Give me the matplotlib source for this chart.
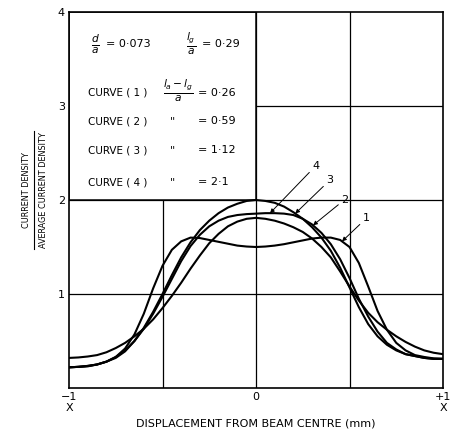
import numpy as np
import matplotlib
matplotlib.use("Agg")
import matplotlib.pyplot as plt
from matplotlib.patches import Rectangle
from matplotlib.lines import Line2D

plt.rcParams['font.family'] = ['DejaVu Sans']

# ---- data ----
x = np.round(np.arange(-1.0, 1.0001, 0.05), 2)

curve1 = [0.22, 0.225, 0.23, 0.25, 0.28, 0.33, 0.42, 0.57, 0.79, 1.06, 1.30,
          1.47, 1.56, 1.60, 1.595, 1.575, 1.555, 1.535, 1.515, 1.505, 1.50,
          1.505, 1.515, 1.53, 1.55, 1.57, 1.59, 1.60, 1.60, 1.575, 1.50,
          1.33, 1.08, 0.82, 0.62, 0.48, 0.40, 0.35, 0.33, 0.315, 0.31]

curve2 = [0.32, 0.325, 0.335, 0.35, 0.38, 0.425, 0.48, 0.55, 0.63, 0.73, 0.85,
          0.98, 1.12, 1.27, 1.41, 1.54, 1.64, 1.72, 1.77, 1.80, 1.81,
          1.80, 1.78, 1.75, 1.71, 1.66, 1.59, 1.50, 1.39, 1.24, 1.08,
          0.93, 0.80, 0.70, 0.62, 0.55, 0.49, 0.44, 0.40, 0.375, 0.36]

curve3 = [0.22, 0.225, 0.235, 0.25, 0.28, 0.32, 0.39, 0.50, 0.64, 0.81, 1.00,
          1.20, 1.39, 1.55, 1.68, 1.78, 1.86, 1.92, 1.96, 1.99, 2.00,
          1.99, 1.97, 1.93, 1.87, 1.80, 1.71, 1.60, 1.46, 1.28, 1.07,
          0.86, 0.68, 0.55, 0.46, 0.40, 0.36, 0.34, 0.32, 0.31, 0.31]

curve4 = [0.22, 0.225, 0.235, 0.25, 0.28, 0.33, 0.40, 0.50, 0.63, 0.79, 0.97,
          1.16, 1.35, 1.51, 1.63, 1.72, 1.78, 1.82, 1.84, 1.85, 1.855,
          1.86, 1.86, 1.855, 1.84, 1.80, 1.74, 1.65, 1.53, 1.37, 1.17,
          0.95, 0.76, 0.60, 0.48, 0.41, 0.36, 0.34, 0.32, 0.31, 0.31]

curve_labels = ["1", "2", "3", "4"]
ratios = ["0·26", "0·59", "1·12", "2·1"]
xtick_vals = [-1, 0, 1]
xtick_labels = ["\u22121\nX", "0", "+1\nX"]
ytick_vals = [1, 2, 3, 4]
ytick_labels = ["1", "2", "3", "4"]

# ---- figure ----
fig = plt.figure(figsize=(4.5, 4.3), dpi=100)
ax = fig.add_axes([69/450, 42/430, 374/450, 376/430])
ax.set_xlim(-1, 1)
ax.set_ylim(0, 4)

for gx in [-0.5, 0, 0.5]:
    ax.axvline(gx, color='black', lw=0.9, zorder=1)
for gy in [1, 2, 3]:
    ax.axhline(gy, color='black', lw=0.9, zorder=1)

# text box in the upper-left quadrant
ax.add_patch(Rectangle((-1, 2), 1, 2, facecolor='white', edgecolor='black',
                       lw=1.1, zorder=2))

curves = [curve1, curve2, curve3, curve4]
for c in curves:
    ax.plot(x, c, color='black', lw=1.5, zorder=3, solid_joinstyle='round',
            solid_capstyle='round')

# curve labels with arrows
tip_x = [0.46, 0.305, 0.21, 0.075]
tip_on = [curve1, curve4, curve3, curve4]
label_off = [(0.11, 0.19), (0.15, 0.22), (0.165, 0.30), (0.225, 0.45)]
for lab, tx, c, (dx, dy) in zip(curve_labels, tip_x, tip_on, label_off):
    ty = float(np.interp(tx, x, c))
    ax.annotate(lab, xy=(tx, ty), xytext=(tx + dx, ty + dy),
                fontsize=8, ha='left', va='bottom', zorder=4,
                arrowprops=dict(arrowstyle='-|>', color='black', lw=0.7,
                                mutation_scale=6, shrinkA=0, shrinkB=0))

# box text
fs = 8
ax.text(-0.86, 3.66, r"$\frac{d}{a}$", fontsize=11, ha='center', va='center', zorder=4)
ax.text(-0.80, 3.66, "= 0·073", fontsize=fs, ha='left', va='center', zorder=4)
ax.text(-0.345, 3.66, r"$\frac{l_g}{a}$", fontsize=11, ha='center', va='center', zorder=4)
ax.text(-0.29, 3.66, "= 0·29", fontsize=fs, ha='left', va='center', zorder=4)

rows_y = [3.14, 2.84, 2.53, 2.19]
for i, (lab, r, yy) in enumerate(zip(curve_labels, ratios, rows_y)):
    ax.text(-0.90, yy, "CURVE ( %s )" % lab, fontsize=7.5, ha='left',
            va='center', zorder=4)
    if i == 0:
        ax.text(-0.415, yy + 0.02, r"$\frac{l_a - l_g}{a}$", fontsize=11,
                ha='center', va='center', zorder=4)
    else:
        ax.text(-0.445, yy, '"', fontsize=fs, ha='center', va='center', zorder=4)
    ax.text(-0.31, yy, "= " + r, fontsize=fs, ha='left', va='center', zorder=4)

# ticks
ax.set_xticks(xtick_vals)
ax.set_xticklabels(xtick_labels, fontsize=8, linespacing=1.1)
ax.set_yticks(ytick_vals)
ax.set_yticklabels(ytick_labels, fontsize=8)
ax.tick_params(length=0, pad=3)
for s in ax.spines.values():
    s.set_linewidth(1.2)

ax.set_xlabel("DISPLACEMENT FROM BEAM CENTRE (mm)", fontsize=8, labelpad=4)

# y label as a fraction
fig.text(27/450, 1 - 190/430, "CURRENT DENSITY", rotation=90, fontsize=5.9,
         ha='center', va='center')
fig.text(44/450, 1 - 190/430, "AVERAGE CURRENT DENSITY", rotation=90,
         fontsize=5.9, ha='center', va='center')
fig.add_artist(Line2D([34/450, 34/450], [1 - 249/430, 1 - 131/430],
                      color='black', lw=0.8))

fig.savefig("out.png", dpi=100)
